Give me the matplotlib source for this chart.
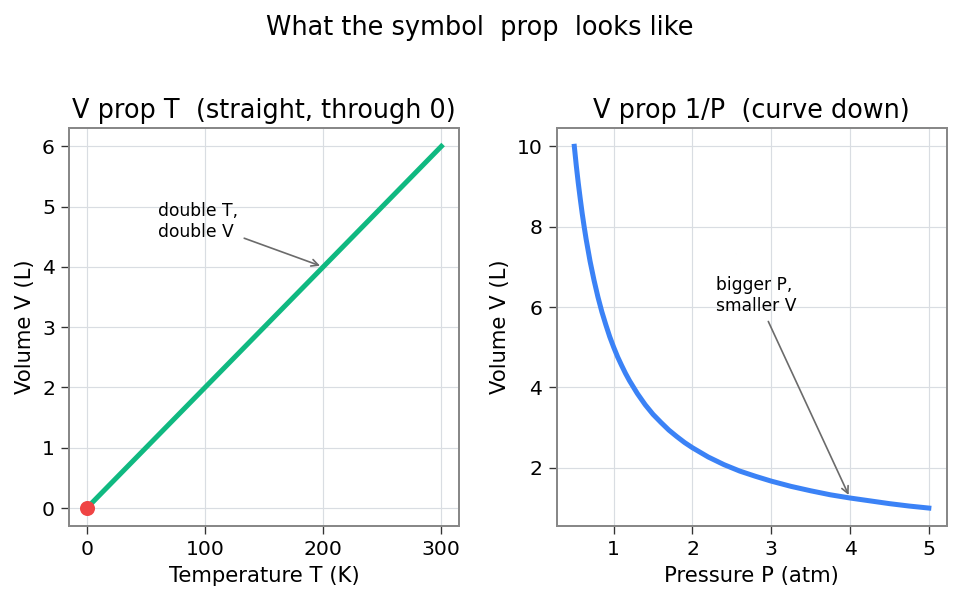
import matplotlib.pyplot as plt

# left panel: V prop T
temp_k = [0, 100, 200, 300]
vol_t = [0.0, 2.0, 4.0, 6.0]

# right panel: V prop 1/P
pressure = [0.5, 0.525, 0.55, 0.575, 0.6, 0.625, 0.65, 0.7, 0.75, 0.8, 0.85, 0.9, 0.95,
            1.0, 1.05, 1.1, 1.15, 1.2, 1.3, 1.4, 1.5, 1.6, 1.7, 1.8, 1.9, 2.0, 2.2, 2.4,
            2.6, 2.8, 3.0, 3.25, 3.5, 3.75, 4.0, 4.25, 4.5, 4.75, 5.0]
vol_p = [10.0, 9.52, 9.09, 8.70, 8.33, 8.0, 7.69, 7.14, 6.67, 6.25, 5.88, 5.56, 5.26,
         5.0, 4.76, 4.55, 4.35, 4.17, 3.85, 3.57, 3.33, 3.13, 2.94, 2.78, 2.63, 2.5, 2.27, 2.08,
         1.92, 1.79, 1.67, 1.54, 1.43, 1.33, 1.25, 1.18, 1.11, 1.05, 1.0]

green = "#10b981"
blue = "#3b82f6"
red = "#ef4444"

plt.rcParams["font.family"] = "DejaVu Sans"

fig, (ax1, ax2) = plt.subplots(1, 2, figsize=(8, 602 / 120), dpi=120)
fig.subplots_adjust(left=0.072, right=0.986, bottom=0.126, top=0.787, wspace=0.25)

ax1.plot(temp_k, vol_t, color=green, lw=3)
ax1.plot(temp_k[0], vol_t[0], "o", color=red, ms=8, zorder=5)
ax1.annotate("double T,\ndouble V", xy=(200, 4.0), xytext=(60, 4.5), fontsize=10.3,
             arrowprops=dict(arrowstyle="->", color="#6b6b6b", lw=1))
ax1.set_title("V prop T  (straight, through 0)", fontsize=15.3)
ax1.set_xlabel("Temperature T (K)", fontsize=12.7)
ax1.set_ylabel("Volume V (L)", fontsize=12.7)

ax2.plot(pressure, vol_p, color=blue, lw=3)
ax2.annotate("bigger P,\nsmaller V", xy=(4.0, 1.25), xytext=(2.3, 5.9), fontsize=10.3,
             arrowprops=dict(arrowstyle="->", color="#6b6b6b", lw=1))
ax2.set_title("V prop 1/P  (curve down)", fontsize=15.3)
ax2.set_xlabel("Pressure P (atm)", fontsize=12.7)
ax2.set_ylabel("Volume V (L)", fontsize=12.7)
ax2.set_yticks([2, 4, 6, 8, 10])

for ax in (ax1, ax2):
    ax.grid(True, color="#d9dde2", lw=0.7)
    ax.set_axisbelow(True)
    ax.tick_params(labelsize=12.2, length=5, color="#333333")
    for s in ax.spines.values():
        s.set_color("#888888")
        s.set_linewidth(1.2)

fig.suptitle("What the symbol  prop  looks like", fontsize=15.4, y=0.975)

plt.savefig("out.png", dpi=120)
